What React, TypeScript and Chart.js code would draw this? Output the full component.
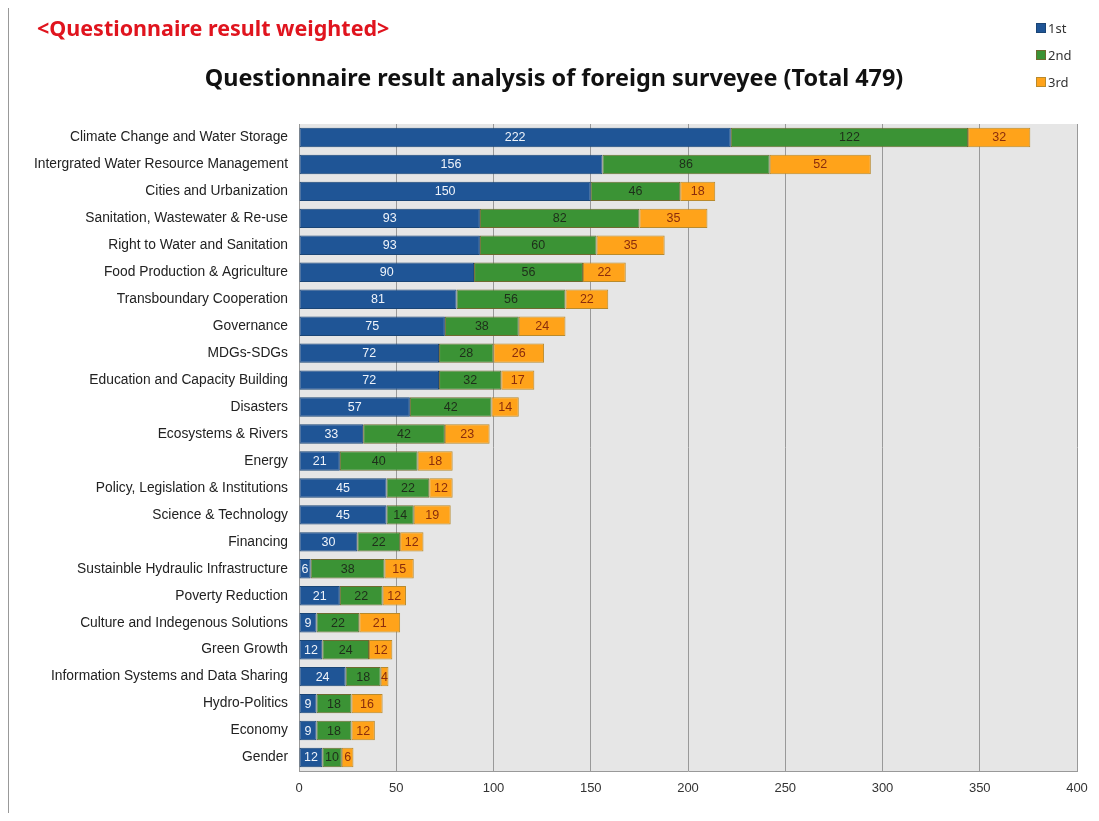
import React, { useEffect, useRef } from "react";
import { Chart, registerables } from "chart.js";

Chart.register(...registerables);

const categories = [
  "Climate Change and Water Storage",
  "Intergrated Water Resource Management",
  "Cities and Urbanization",
  "Sanitation, Wastewater & Re-use",
  "Right to Water and Sanitation",
  "Food Production & Agriculture",
  "Transboundary Cooperation",
  "Governance",
  "MDGs-SDGs",
  "Education and Capacity Building",
  "Disasters",
  "Ecosystems & Rivers",
  "Energy",
  "Policy, Legislation & Institutions",
  "Science & Technology",
  "Financing",
  "Sustainble Hydraulic Infrastructure",
  "Poverty Reduction",
  "Culture and Indegenous Solutions",
  "Green Growth",
  "Information Systems and Data Sharing",
  "Hydro-Politics",
  "Economy",
  "Gender",
];

const first = [222, 156, 150, 93, 93, 90, 81, 75, 72, 72, 57, 33, 21, 45, 45, 30, 6, 21, 9, 12, 24, 9, 9, 12];
const second = [122, 86, 46, 82, 60, 56, 56, 38, 28, 32, 42, 42, 40, 22, 14, 22, 38, 22, 22, 24, 18, 18, 18, 10];
const third = [32, 52, 18, 35, 35, 22, 22, 24, 26, 17, 14, 23, 18, 12, 19, 12, 15, 12, 21, 12, 4, 16, 12, 6];

const seriesNames = ["1st", "2nd", "3rd"];
const seriesColors = ["#1f5596", "#3b9335", "#ffa31a"];
const seriesBorders = ["#1a4576", "#6e6a30", "#b98a2c"];
const labelColors = ["#eef3fa", "#1e2e1a", "#8a2c0c"];

const xTicks = { min: 0, max: 400, step: 50 };

const chartTitle = "Questionnaire result analysis of foreign surveyee (Total 479)";
const headerTitle = "<Questionnaire result weighted>";

const plotBg = {
  id: "plotBg",
  beforeDraw(chart: any) {
    const { ctx, chartArea } = chart;
    ctx.save();
    ctx.fillStyle = "#e6e6e6";
    ctx.fillRect(chartArea.left, chartArea.top, chartArea.right - chartArea.left, chartArea.bottom - chartArea.top);
    ctx.restore();
  },
};

const valueLabels = {
  id: "valueLabels",
  afterDatasetsDraw(chart: any) {
    const { ctx } = chart;
    ctx.save();
    ctx.font = "12.5px 'Liberation Sans', Arial, sans-serif";
    ctx.textAlign = "center";
    ctx.textBaseline = "middle";
    chart.data.datasets.forEach((ds: any, di: number) => {
      const meta = chart.getDatasetMeta(di);
      meta.data.forEach((bar: any, i: number) => {
        const v = ds.data[i];
        if (!v) return;
        const cx = (bar.x + bar.base) / 2;
        ctx.fillStyle = labelColors[di];
        ctx.fillText(String(v), cx, bar.y + 0.5);
      });
    });
    ctx.restore();
  },
};

export default function App() {
  const ref = useRef<HTMLCanvasElement | null>(null);

  useEffect(() => {
    if (!ref.current) return;
    const chart = new Chart(ref.current, {
      type: "bar",
      data: {
        labels: categories,
        datasets: [first, second, third].map((d, i) => ({
          label: seriesNames[i],
          data: d,
          backgroundColor: seriesColors[i],
          borderColor: seriesBorders[i],
          borderWidth: 1,
          borderSkipped: false,
          barPercentage: 0.72,
          categoryPercentage: 1,
        })),
      },
      options: {
        indexAxis: "y",
        responsive: false,
        animation: false,
        layout: { padding: { left: 0, top: 116, right: 14, bottom: 0 } },
        plugins: {
          legend: { display: false },
          title: { display: false },
          tooltip: { enabled: false },
        },
        scales: {
          x: {
            stacked: true,
            min: xTicks.min,
            max: xTicks.max,
            ticks: {
              stepSize: xTicks.step,
              color: "#333",
              padding: 10,
              font: { family: "'Liberation Sans', Arial, sans-serif", size: 13 },
            },
            grid: { color: "#999999", drawTicks: false, lineWidth: 1 },
            border: { display: true, color: "#999999" },
            afterFit(scale: any) {
              scale.height = 42;
              scale.paddingLeft = 0;
              scale.paddingRight = 0;
            },
          },
          y: {
            stacked: true,
            ticks: {
              color: "#222",
              padding: 11,
              autoSkip: false,
              font: { family: "'Liberation Sans', Arial, sans-serif", size: 13.8 },
            },
            grid: { display: false, drawTicks: false },
            border: { display: true, color: "#999999" },
            afterFit(scale: any) {
              scale.width = 291;
              scale.paddingTop = 0;
              scale.paddingBottom = 0;
            },
          },
        },
      },
      plugins: [plotBg, valueLabels],
    });
    return () => chart.destroy();
  }, []);

  return (
    <div style={{ position: "relative", width: 1083, height: 805 }}>
      <div
        style={{
          position: "absolute",
          left: 0,
          top: -1,
          width: 1088,
          height: 812,
          borderTop: "1px solid #999",
          borderLeft: "1px solid #999",
          pointerEvents: "none",
        }}
      />
      <canvas ref={ref} width={1083} height={805} style={{ position: "absolute", left: 0, top: 0 }} />
      <div
        style={{
          position: "absolute",
          left: 29,
          top: 5,
          color: "#e0141e",
          fontFamily: "'Noto Sans', sans-serif",
          fontWeight: 700,
          fontSize: 21.5,
          lineHeight: "30px",
          whiteSpace: "nowrap",
        }}
      >
        {headerTitle}
      </div>
      <div
        style={{
          position: "absolute",
          left: 0,
          width: 1092,
          top: 53,
          textAlign: "center",
          color: "#111",
          fontFamily: "'Noto Sans', sans-serif",
          fontWeight: 700,
          fontSize: 23.4,
          lineHeight: "32px",
          whiteSpace: "nowrap",
        }}
      >
        {chartTitle}
      </div>
      <div style={{ position: "absolute", left: 1028, top: 6 }}>
        {seriesNames.map((n, i) => (
          <div
            key={n}
            style={{
              display: "flex",
              alignItems: "center",
              height: 27,
              fontFamily: "'Noto Sans', sans-serif",
              fontSize: 13,
              color: "#333",
            }}
          >
            <span
              style={{
                display: "inline-block",
                width: 10,
                height: 10,
                background: seriesColors[i],
                border: `1px solid ${seriesBorders[i]}`,
                marginRight: 2,
                boxSizing: "border-box",
              }}
            />
            {n}
          </div>
        ))}
      </div>
    </div>
  );
}
